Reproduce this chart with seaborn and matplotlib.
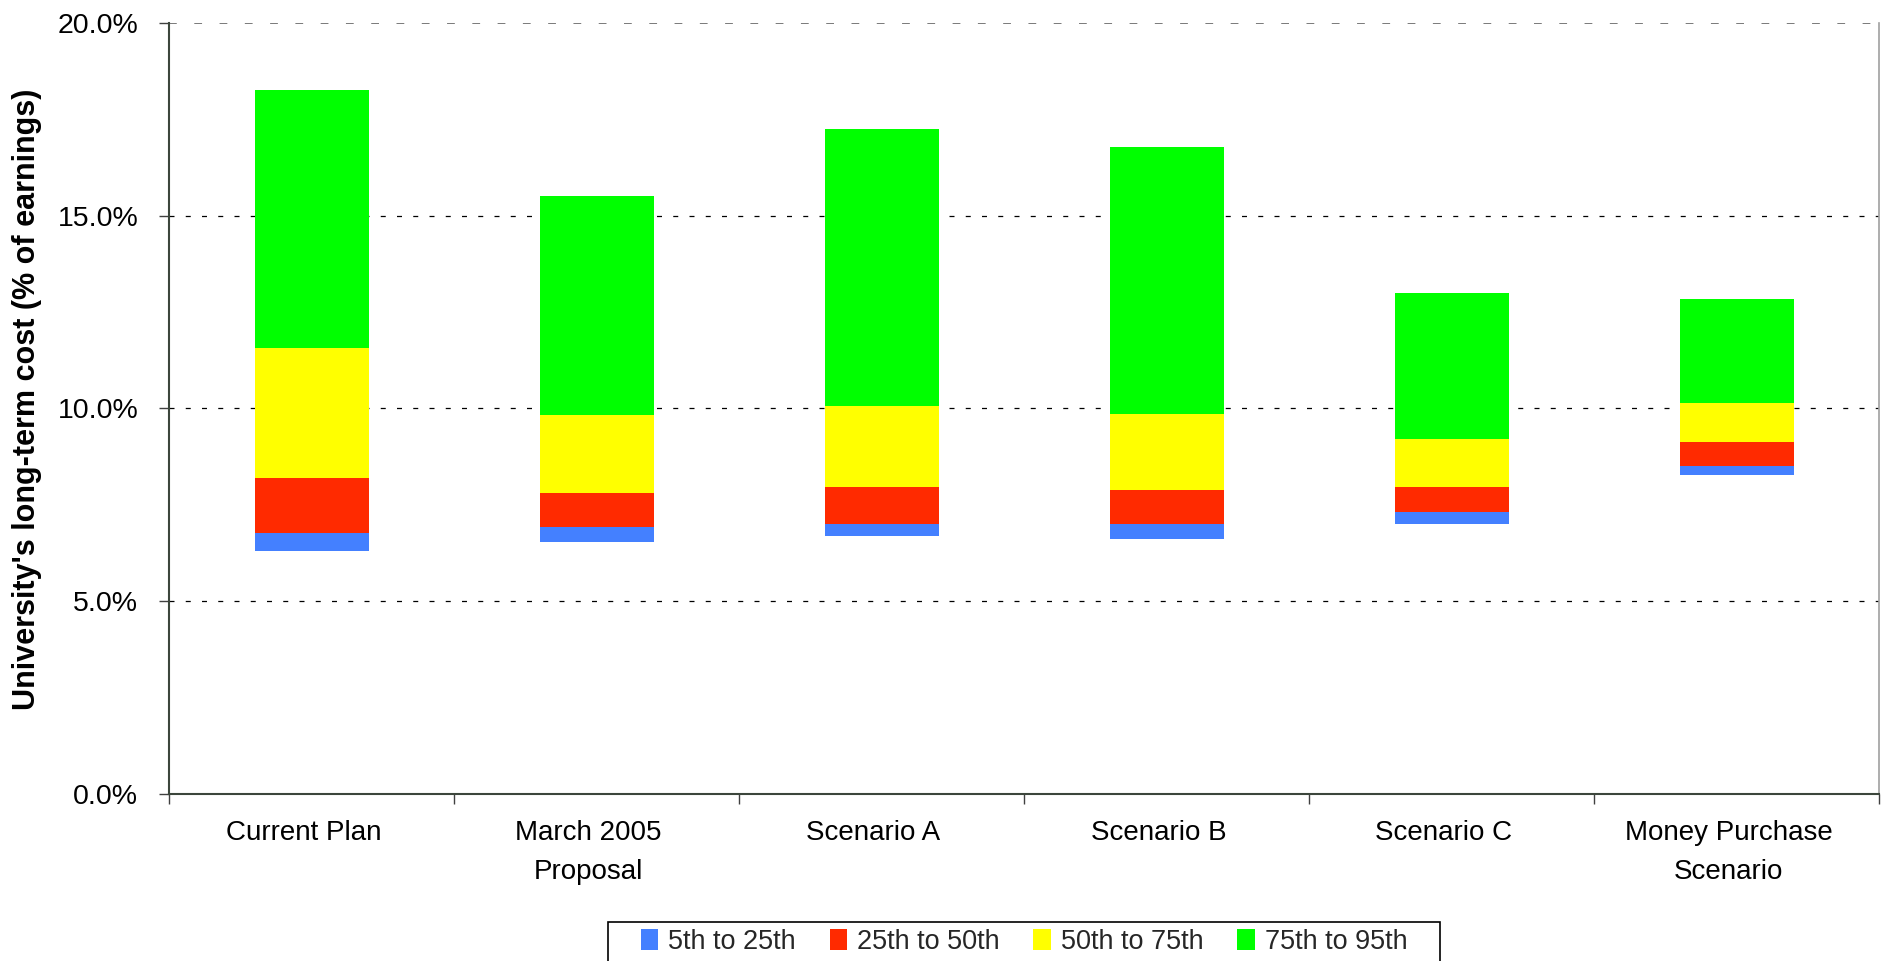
import numpy as np
import pandas as pd
import matplotlib
matplotlib.use("Agg")
import matplotlib.pyplot as plt
import matplotlib.transforms as mtransforms
from matplotlib.patches import Rectangle
from matplotlib.ticker import FuncFormatter, FixedLocator
import seaborn as sns

# Scenarios and percentile outcomes of the long-term cost (% of earnings)
scenarios = ["Current Plan", "March 2005\nProposal", "Scenario A",
             "Scenario B", "Scenario C", "Money Purchase\nScenario"]
p5 = [6.31, 6.54, 6.70, 6.61, 7.00, 8.27]
p25 = [6.77, 6.92, 7.00, 7.00, 7.32, 8.50]
p50 = [8.20, 7.80, 7.96, 7.88, 7.96, 9.13]
p75 = [11.58, 9.83, 10.07, 9.85, 9.21, 10.14]
p95 = [18.26, 15.51, 17.25, 16.78, 12.99, 12.84]

band_labels = ["5th to 25th", "25th to 50th", "50th to 75th", "75th to 95th"]
band_colors = ["#4480FF", "#FF2A00", "#FFFF00", "#00FF00"]
y_ticks = [0, 5, 10, 15, 20]

sns.set_theme(style="white")
plt.rcParams["font.family"] = ["Liberation Sans", "DejaVu Sans"]

W, H, DPI = 1887, 961, 100
fig = plt.figure(figsize=(W / DPI, H / DPI), dpi=DPI)
ax = fig.add_axes([169 / W, 1 - 794 / H, (1879 - 169) / W, (794 - 23) / H])

bounds = [p5, p25, p50, p75, p95]
for i, (lab, col) in enumerate(zip(band_labels, band_colors)):
    lo = np.array(bounds[i])
    hi = np.array(bounds[i + 1])
    df = pd.DataFrame({"scenario": scenarios, "height": hi - lo})
    sns.barplot(data=df, x="scenario", y="height", bottom=lo, color=col,
                width=0.4, label=lab, linewidth=0, saturation=1, ax=ax,
                zorder=3)

ax.set_xlim(-0.5, len(scenarios) - 0.5)
ax.set_ylim(0, 20)
ax.set_xlabel("")
ax.set_ylabel("University's long-term cost (% of earnings)",
              fontsize=22, fontweight="bold", color="black")
ax.yaxis.set_label_coords((42 - 169) / (1879 - 169), 0.512)

# y axis: percent ticks, dashed grid
ax.yaxis.set_major_locator(FixedLocator(y_ticks))
ax.yaxis.set_major_formatter(FuncFormatter(lambda v, p: f"{v:.1f}%"))
ax.tick_params(axis="y", which="major", direction="out", length=7.2,
               width=1, color="#404040", labelsize=20.5, pad=15,
               labelcolor="black", left=True)
ax.yaxis.grid(True, color="black", linestyle=(0, (4, 9)), linewidth=0.9,
              zorder=0)
ax.set_axisbelow(True)
gl = ax.get_ygridlines()
gl[-1].set_color("#7a7a7a")
gl[-1].set_linewidth(1.4)

# x axis: category labels at centres, tick marks at boundaries
ax.set_xticks(range(len(scenarios)))
ax.set_xticklabels(scenarios, fontsize=20, color="black", linespacing=1.65)
ax.set_xticks(np.arange(-0.5, len(scenarios)), minor=True)
ax.tick_params(axis="x", which="major", length=0, pad=19, bottom=True)
ax.tick_params(axis="x", which="minor", direction="out", length=7.2,
               width=1, color="#404040", bottom=True)
shift = mtransforms.ScaledTranslation(-8 / DPI, 0, fig.dpi_scale_trans)
for t in ax.get_xticklabels():
    t.set_transform(t.get_transform() + shift)

for side in ["left", "bottom"]:
    ax.spines[side].set_color("#3c463c")
    ax.spines[side].set_linewidth(1.5)
ax.spines["right"].set_color("#a0a0a0")
ax.spines["right"].set_linewidth(1.2)
ax.spines["top"].set_visible(False)

# legend strip along the bottom edge
handles, labels = ax.get_legend_handles_labels()
leg = ax.legend(handles, labels, loc="upper center", ncol=4,
                bbox_to_anchor=(1024 / W, 1 - 929 / H),
                bbox_transform=fig.transFigure, frameon=False,
                fontsize=19.5, handlelength=0.65, handleheight=0.8,
                handletextpad=0.36, columnspacing=1.25, borderpad=0,
                borderaxespad=0)
fig.add_artist(Rectangle((607.5 / W, -0.05), (1440 - 607.5) / W,
                         (1 - 922 / H) + 0.05, transform=fig.transFigure,
                         facecolor="none", edgecolor="black", linewidth=1.2))

fig.savefig("out.png", dpi=DPI, facecolor="white")
